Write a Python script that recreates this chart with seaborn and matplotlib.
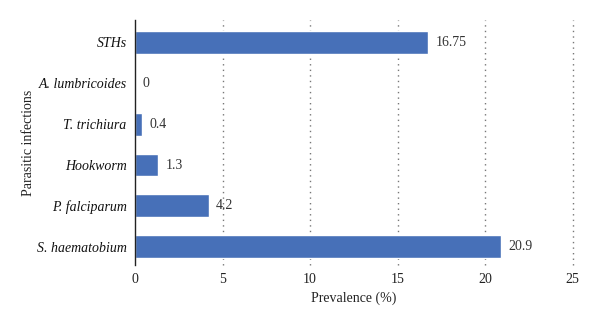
import matplotlib
matplotlib.use("Agg")
import matplotlib.pyplot as plt
import seaborn as sns
import pandas as pd

categories = ["STHs", "A. lumbricoides", "T. trichiura", "Hookworm", "P. falciparum", "S. haematobium"]
values = [16.75, 0, 0.4, 1.3, 4.2, 20.9]
value_labels = ["16.75", "0", "0.4", "1.3", "4.2", "20.9"]
xticks = [0, 5, 10, 15, 20, 25]

sns.set_theme(style="white")
plt.rcParams["font.family"] = ["Liberation Serif", "DejaVu Serif"]

df = pd.DataFrame({"cat": categories, "val": values})

fig = plt.figure(figsize=(6, 3.25), dpi=100)
ax = fig.add_axes([0.225, 0.185, 0.73, 0.753])
sns.barplot(data=df, x="val", y="cat", orient="h", color="#4770B8",
            width=0.56, ax=ax, saturation=1, order=categories)

ax.set_xlim(0, 25.02)
ax.set_ylim(5.44, -0.54)
ax.set_xticks(xticks)
ax.set_xticklabels([str(t) for t in xticks], fontsize=10, color="#222222")
ax.tick_params(axis="both", length=0, pad=6)
for lbl in ax.get_yticklabels():
    lbl.set_fontstyle("italic")
    lbl.set_fontsize(10)
    lbl.set_color("#111111")

for x in xticks[1:]:
    ax.axvline(x, color="#777777", linestyle=(0, (1, 3)), linewidth=1.0, zorder=0, clip_on=False)

for i, (v, s) in enumerate(zip(values, value_labels)):
    ax.annotate(s, (v, i), xytext=(5.5, 0), textcoords="offset points",
                va="center", ha="left", fontsize=10, color="#333333")

for sp in ["top", "right", "bottom"]:
    ax.spines[sp].set_visible(False)
ax.spines["left"].set_color("#222222")
ax.spines["left"].set_linewidth(1.0)

ax.set_xlabel("Prevalence (%)", fontsize=10, color="#222222", labelpad=4)
ax.set_ylabel("Parasitic infections", fontsize=10, color="#222222", labelpad=1)

fig.savefig("out.png", dpi=100)
